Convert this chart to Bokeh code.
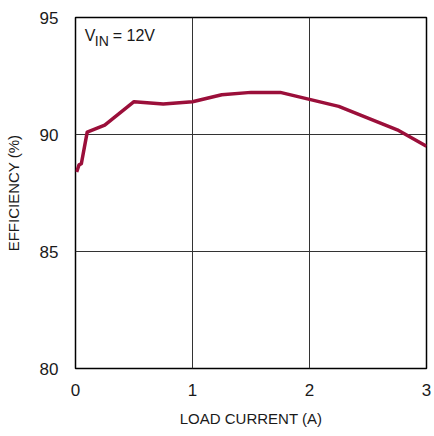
from bokeh.plotting import figure
from bokeh.models import Label, Range1d, FixedTicker
from bokeh.embed import file_html
from bokeh.resources import INLINE

load_current = [0.01, 0.03, 0.05, 0.1, 0.25, 0.5, 0.75, 1.0, 1.25, 1.5, 1.75, 2.0, 2.25, 2.5, 2.75, 3.0]
efficiency = [88.4, 88.7, 88.75, 90.1, 90.4, 91.4, 91.3, 91.4, 91.7, 91.8, 91.8, 91.5, 91.2, 90.7, 90.2, 89.5]
x_ticks = [0, 1, 2, 3]
y_ticks = [80, 85, 90, 95]

FONT = "Liberation Sans, Arial, sans-serif"
TXT = "#1a1a1a"

p = figure(width=434, height=436, output_backend="svg", toolbar_location=None,
           x_range=Range1d(0, 3), y_range=Range1d(80, 95),
           min_border_left=75, min_border_right=8, min_border_top=17, min_border_bottom=68)

p.line(load_current, efficiency, line_color="#9b0f3a", line_width=3.5, line_join="round")

p.outline_line_color = "black"
p.outline_line_width = 1.5
p.outline_line_alpha = 1

for ax in (p.xaxis[0], p.yaxis[0]):
    ax.axis_line_color = None
    ax.major_tick_line_color = None
    ax.minor_tick_line_color = None
    ax.major_label_text_font = FONT
    ax.major_label_text_font_size = "17px"
    ax.major_label_text_color = TXT
    ax.axis_label_text_font = FONT
    ax.axis_label_text_font_size = "15px"
    ax.axis_label_text_font_style = "normal"
    ax.axis_label_text_color = TXT

p.xaxis.ticker = FixedTicker(ticks=x_ticks)
p.yaxis.ticker = FixedTicker(ticks=y_ticks)
p.xaxis.axis_label = "LOAD CURRENT (A)"
p.yaxis.axis_label = "EFFICIENCY (%)"
p.xaxis.major_label_standoff = 9
p.yaxis.major_label_standoff = 11
p.xaxis.axis_label_standoff = 11
p.yaxis.axis_label_standoff = 15

p.xgrid.ticker = FixedTicker(ticks=[1, 2])
p.ygrid.ticker = FixedTicker(ticks=[85, 90])
p.xgrid.grid_line_color = "#333333"
p.ygrid.grid_line_color = "#333333"
p.xgrid.grid_line_width = 1
p.ygrid.grid_line_width = 1

p.add_layout(Label(x=0.079, y=94.21, text="V", text_font=FONT, text_font_size="16px",
                   text_color=TXT, text_baseline="middle"))
p.add_layout(Label(x=0.165, y=94.0, text="IN", text_font=FONT, text_font_size="14px",
                   text_color=TXT, text_baseline="middle"))
p.add_layout(Label(x=0.318, y=94.21, text="= 12V", text_font=FONT, text_font_size="16px",
                   text_color=TXT, text_baseline="middle"))
p.add_layout(Label(x=3.0, y=77.35, text="8065 TA01b", text_font=FONT, text_font_size="9.5px",
                   text_color=TXT, text_baseline="middle", text_align="right"))

open("out.html", "w").write(file_html(p, INLINE))
